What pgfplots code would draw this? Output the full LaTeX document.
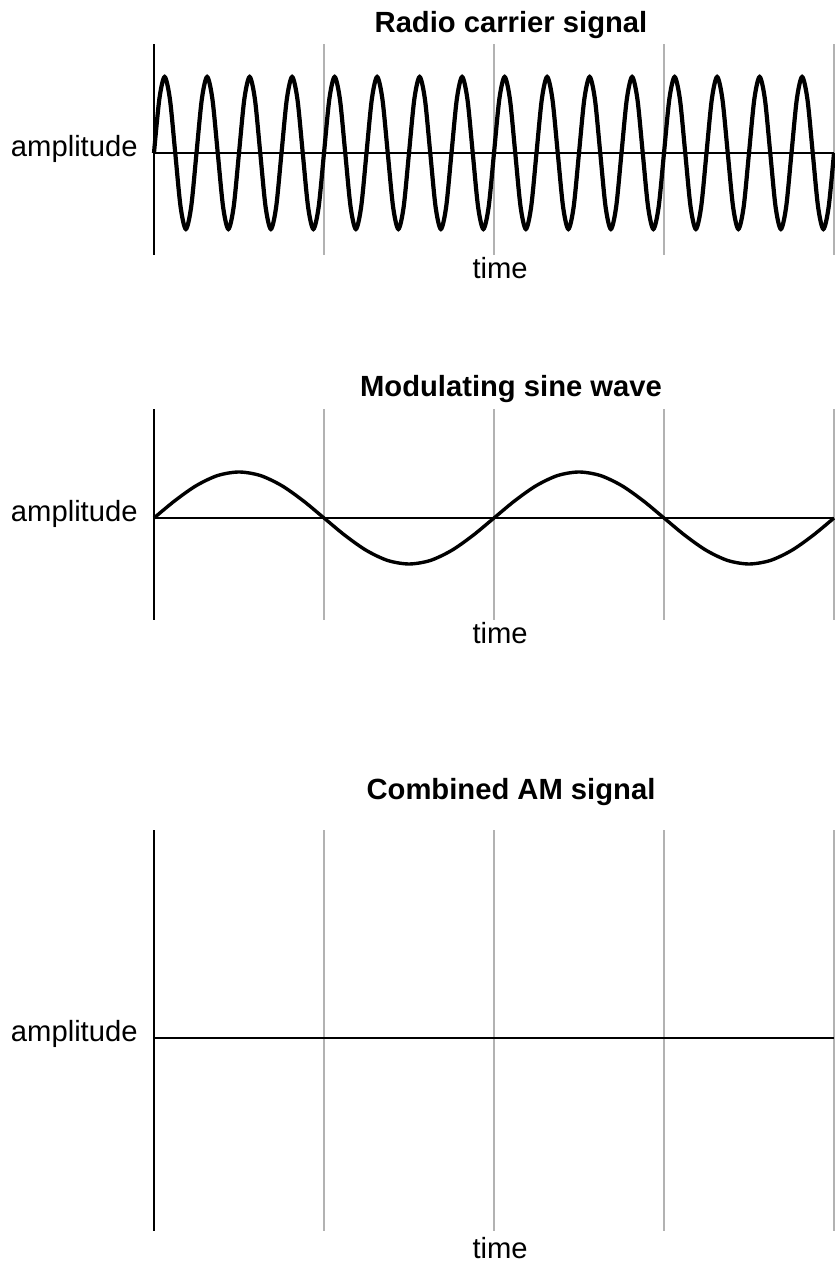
\documentclass[border=0pt]{standalone}
\usepackage{pgfplots}
\pgfplotsset{compat=1.18}
\usepackage{fontspec}
\setmainfont{Liberation Sans}
\pgfplotsset{
  sig/.style={
    scale only axis, width=340pt, clip=false,
    xmin=0, xmax=128,
    axis x line*=bottom, axis y line*=left,
    x axis line style={draw=none},
    y axis line style={line width=1pt, black},
    xtick={32,64,96,128}, xticklabels={},
    ytick=\empty,
    major tick length=0pt,
    xmajorgrids,
    major grid style={line width=0.7pt, black!30},
  }
}
\newcommand{\fnt}{\fontsize{14.6}{17}\selectfont}
\begin{document}
\begin{tikzpicture}
\useasboundingbox (0,0) rectangle (417.5pt,633pt);
% ---------------- Panel 1
\begin{axis}[sig, at={(77pt,505.5pt)}, anchor=south west, height=105.5pt, ymin=-102, ymax=109]
\addplot[black, line width=1pt] coordinates {(0,0)(128,0)};
\addplot[black, line width=2.1pt, smooth] coordinates {
(0,0)(1,53.7)(2,76)(3,53.7)(4,0)(5,-53.7)(6,-76)(7,-53.7)
(8,0)(9,53.7)(10,76)(11,53.7)(12,0)(13,-53.7)(14,-76)(15,-53.7)
(16,0)(17,53.7)(18,76)(19,53.7)(20,0)(21,-53.7)(22,-76)(23,-53.7)
(24,0)(25,53.7)(26,76)(27,53.7)(28,0)(29,-53.7)(30,-76)(31,-53.7)
(32,0)(33,53.7)(34,76)(35,53.7)(36,0)(37,-53.7)(38,-76)(39,-53.7)
(40,0)(41,53.7)(42,76)(43,53.7)(44,0)(45,-53.7)(46,-76)(47,-53.7)
(48,0)(49,53.7)(50,76)(51,53.7)(52,0)(53,-53.7)(54,-76)(55,-53.7)
(56,0)(57,53.7)(58,76)(59,53.7)(60,0)(61,-53.7)(62,-76)(63,-53.7)
(64,0)(65,53.7)(66,76)(67,53.7)(68,0)(69,-53.7)(70,-76)(71,-53.7)
(72,0)(73,53.7)(74,76)(75,53.7)(76,0)(77,-53.7)(78,-76)(79,-53.7)
(80,0)(81,53.7)(82,76)(83,53.7)(84,0)(85,-53.7)(86,-76)(87,-53.7)
(88,0)(89,53.7)(90,76)(91,53.7)(92,0)(93,-53.7)(94,-76)(95,-53.7)
(96,0)(97,53.7)(98,76)(99,53.7)(100,0)(101,-53.7)(102,-76)(103,-53.7)
(104,0)(105,53.7)(106,76)(107,53.7)(108,0)(109,-53.7)(110,-76)(111,-53.7)
(112,0)(113,53.7)(114,76)(115,53.7)(116,0)(117,-53.7)(118,-76)(119,-53.7)
(120,0)(121,53.7)(122,76)(123,53.7)(124,0)(125,-53.7)(126,-76)(127,-53.7)
(128,0)};
\node[anchor=base, inner sep=0, font=\fnt\bfseries] at (rel axis cs:0.525,1) [yshift=5.5pt] {Radio carrier signal};
\node[anchor=base, inner sep=0, font=\fnt] at (rel axis cs:0.509,0) [yshift=-12pt] {time};
\node[anchor=base east, inner sep=0, font=\fnt] at (axis cs:0,0) [xshift=-8pt, yshift=-2pt] {amplitude};
\end{axis}
% ---------------- Panel 2
\begin{axis}[sig, at={(77pt,323pt)}, anchor=south west, height=105.5pt, ymin=-102, ymax=109]
\addplot[black, line width=1pt] coordinates {(0,0)(128,0)};
\addplot[black, line width=1.7pt, smooth] coordinates {
(0,0)(4,17.6)(8,32.5)(12,42.5)(16,46)(20,42.5)(24,32.5)(28,17.6)
(32,0)(36,-17.6)(40,-32.5)(44,-42.5)(48,-46)(52,-42.5)(56,-32.5)(60,-17.6)
(64,0)(68,17.6)(72,32.5)(76,42.5)(80,46)(84,42.5)(88,32.5)(92,17.6)
(96,0)(100,-17.6)(104,-32.5)(108,-42.5)(112,-46)(116,-42.5)(120,-32.5)(124,-17.6)
(128,0)};
\node[anchor=base, inner sep=0, font=\fnt\bfseries] at (rel axis cs:0.525,1) [yshift=6pt] {Modulating sine wave};
\node[anchor=base, inner sep=0, font=\fnt] at (rel axis cs:0.509,0) [yshift=-12pt] {time};
\node[anchor=base east, inner sep=0, font=\fnt] at (axis cs:0,0) [xshift=-8pt, yshift=-2pt] {amplitude};
\end{axis}
% ---------------- Panel 3
\begin{axis}[sig, at={(77pt,17.5pt)}, anchor=south west, height=200.5pt, ymin=-193, ymax=208]
\addplot[black, line width=1pt] coordinates {(0,0)(128,0)};
\node[anchor=base, inner sep=0, font=\fnt\bfseries] at (rel axis cs:0.525,1) [yshift=15pt] {Combined AM signal};
\node[anchor=base, inner sep=0, font=\fnt] at (rel axis cs:0.509,0) [yshift=-14pt] {time};
\node[anchor=base east, inner sep=0, font=\fnt] at (axis cs:0,0) [xshift=-8pt, yshift=-2pt] {amplitude};
\end{axis}
\end{tikzpicture}
\end{document}
